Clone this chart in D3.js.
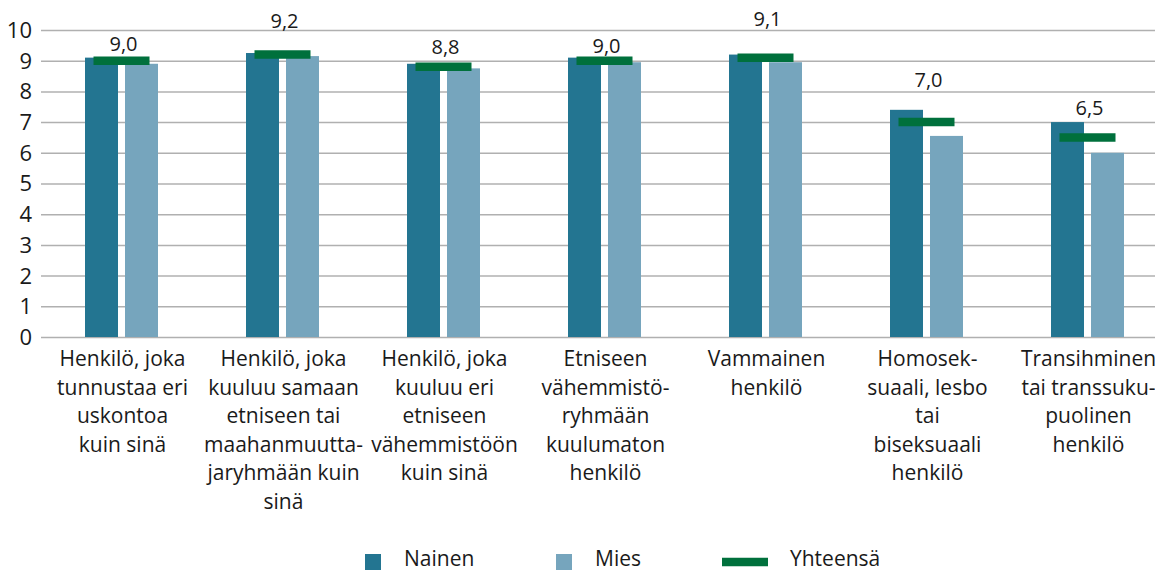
<!DOCTYPE html>
<html><head><meta charset="utf-8">
<script src="https://cdn.jsdelivr.net/npm/d3@7"></script>
<style>
body{margin:0;background:#fff;overflow:hidden}
svg{display:block;font-family:"Open Sans",sans-serif}
</style></head>
<body><svg id="c" width="1155" height="572"></svg>
<script>
const categories = [
  "Henkilö, joka\ntunnustaa eri\nuskontoa\nkuin sinä",
  "Henkilö, joka\nkuuluu samaan\netniseen tai\nmaahanmuutta-\njaryhmään kuin\nsinä",
  "Henkilö, joka\nkuuluu eri\netniseen\nvähemmistöön\nkuin sinä",
  "Etniseen\nvähemmistö-\nryhmään\nkuulumaton\nhenkilö",
  "Vammainen\nhenkilö",
  "Homosek-\nsuaali, lesbo\ntai\nbiseksuaali\nhenkilö",
  "Transihminen\ntai transsuku-\npuolinen\nhenkilö"
];
const nainen = [9.1, 9.25, 8.9, 9.1, 9.2, 7.4, 7.0];
const mies = [8.9, 9.15, 8.75, 8.95, 8.95, 6.55, 6.0];
const yhteensa = [9.0, 9.2, 8.8, 9.0, 9.1, 7.0, 6.5];
const yTicks = [0,1,2,3,4,5,6,7,8,9,10];
const seriesNames = ["Nainen", "Mies", "Yhteensä"];

// layout-only: how far each value label sits above its marker (px)
const labelLift = [10, 27, 13, 8, 32, 35, 22];

const colors = {Nainen:"#237591", Mies:"#76a5bd", "Yhteensä":"#00703c"};
const svg = d3.select("#c");
const y = d3.scaleLinear().domain([0,10]).range([337,30]);
const x0 = d3.scaleBand().domain(d3.range(categories.length)).range([41,1168]).padding(0);
const bw = x0.bandwidth();
const x1 = d3.scaleBand().domain(["Nainen","Mies"]).range([bw/2-36.5, bw/2+36.5]).paddingInner(0.175).paddingOuter(0);

// gridlines
const yAxis = d3.axisLeft(y).tickValues(yTicks).tickSize(-(1155-41)).tickPadding(9).tickFormat(d3.format("d"));
const ga = svg.append("g").attr("transform","translate(41,0)").call(yAxis);
ga.select(".domain").remove();
ga.selectAll(".tick line").attr("stroke","#b0b0b0").attr("stroke-width",1.5);
ga.selectAll(".tick text").attr("fill","#1a1a1a").attr("font-size",22).attr("font-family","Open Sans").attr("dy","0.34em");

const rows = categories.map((c,i)=>({i, Nainen:nainen[i], Mies:mies[i], tot:yhteensa[i]}));
const g = svg.append("g");
const grp = g.selectAll("g.grp").data(rows).join("g").attr("class","grp")
  .attr("transform", d=>`translate(${x0(d.i)},0)`);
grp.selectAll("rect.bar").data(d=>["Nainen","Mies"].map(k=>({k,v:d[k]}))).join("rect")
  .attr("class","bar")
  .attr("x", d=>x1(d.k)).attr("width", x1.bandwidth())
  .attr("y", d=>y(d.v)).attr("height", d=>y(0)-y(d.v))
  .attr("fill", d=>colors[d.k]);
// total markers
grp.append("line")
  .attr("x1", bw/2-28).attr("x2", bw/2+28)
  .attr("y1", d=>y(d.tot)).attr("y2", d=>y(d.tot))
  .attr("stroke", colors["Yhteensä"]).attr("stroke-width", 8.5);
// value labels
grp.append("text")
  .attr("x", bw/2+2).attr("y", d=>y(d.tot)-labelLift[d.i])
  .attr("text-anchor","middle").attr("font-size",20).attr("fill","#1a1a1a")
  .text(d=>d3.format(".1f")(d.tot).replace(".",","));

// x labels
const xl = svg.append("g");
categories.forEach((c,i)=>{
  const t = xl.append("text").attr("text-anchor","middle").attr("font-size",21).attr("fill","#1a1a1a");
  c.split("\n").forEach((ln,j)=>{
    t.append("tspan").attr("x", x0(i)+bw/2+1).attr("y", 366 + j*28.5).text(ln);
  });
});

// legend
const leg = svg.append("g");
const legX = [365, 556, 722];
const legTX = [404, 595, 790];
seriesNames.forEach((s,i)=>{
  if (s === "Yhteensä") {
    leg.append("line").attr("x1",legX[i]).attr("x2",legX[i]+46).attr("y1",562).attr("y2",562)
      .attr("stroke",colors[s]).attr("stroke-width",8.5);
  } else {
    leg.append("rect").attr("x",legX[i]).attr("y",554).attr("width",16).attr("height",16).attr("fill",colors[s]);
  }
  leg.append("text").attr("x",legTX[i]).attr("y",566).attr("font-size",21).attr("fill","#1a1a1a").text(s);
});
</script></body></html>
